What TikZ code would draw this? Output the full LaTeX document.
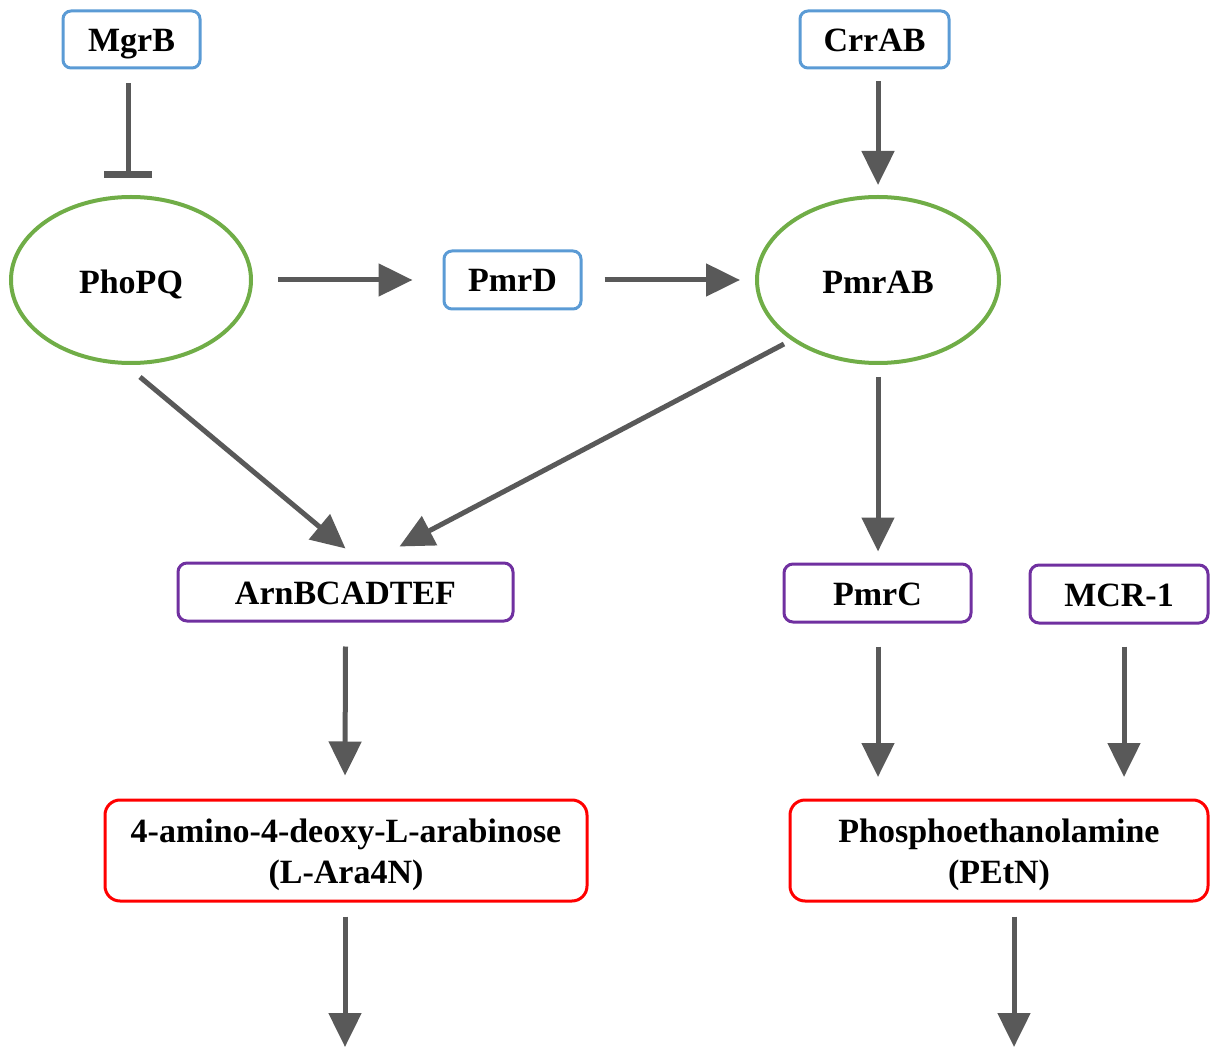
\documentclass[tikz,border=0pt]{standalone}
\usepackage{fontspec}
\setmainfont{Liberation Serif}
\usetikzlibrary{arrows.meta}
\definecolor{bluebox}{HTML}{5B9BD5}
\definecolor{greenov}{HTML}{70AD47}
\definecolor{purplebox}{HTML}{7030A0}
\definecolor{redbox}{HTML}{FF0000}
\definecolor{arrowgray}{HTML}{595959}
\begin{document}
\begin{tikzpicture}[x=1pt,y=-1pt,
  lbl/.style={font=\fontsize{34}{41}\selectfont\bfseries, align=center, inner sep=0pt},
  one/.style={lbl, text height=29pt, text depth=5pt},
  bluenode/.style={one, draw=bluebox, line width=3pt, rounded corners=8pt},
  purplenode/.style={one, draw=purplebox, line width=3pt, rounded corners=9pt},
  rednode/.style={lbl, draw=redbox, line width=3pt, rounded corners=15pt},
  arr/.style={draw=arrowgray, line width=5pt, -{Triangle[length=34pt,width=32pt]}},
  inh/.style={draw=arrowgray, line width=5pt, -{Bar[width=48pt,line width=7pt]}}
]
\useasboundingbox (0,0) rectangle (1210,1048);
\node[bluenode, minimum width=137pt, minimum height=57pt] (mgrb) at (131.5,39.5) {MgrB};
\node[bluenode, minimum width=149pt, minimum height=57pt] (crrab) at (874.5,39.5) {CrrAB};
\node[bluenode, minimum width=137pt, minimum height=58pt] (pmrd) at (512.5,280) {PmrD};
\draw[greenov, line width=4pt] (131,280) ellipse [x radius=120, y radius=83];
\node[one] (phopq) at (131,282) {PhoPQ};
\draw[greenov, line width=4pt] (878,280) ellipse [x radius=121, y radius=83];
\node[one] (pmrab) at (878,282) {PmrAB};
\node[purplenode, minimum width=335pt, minimum height=58pt] (arn) at (345.5,592) {ArnBCADTEF};
\node[purplenode, minimum width=187pt, minimum height=58pt] (pmrc) at (877.5,593) {PmrC};
\node[purplenode, minimum width=178pt, minimum height=58pt] (mcr) at (1119,594) {MCR-1};
\node[rednode, minimum width=482pt, minimum height=101pt] (ara) at (346,850.5) {\rule{0pt}{32pt}4-amino-4-deoxy-L-arabinose\\(L-Ara4N)};
\node[rednode, minimum width=418pt, minimum height=101pt] (petn) at (999,850.5) {\rule{0pt}{32pt}Phosphoethanolamine\\(PEtN)};
\coordinate (end1) at (345,1047);
\coordinate (end2) at (1014,1047);
\coordinate (phopqbar) at (128,178);
% connectors
\draw[inh] ([xshift=-3.5pt,yshift=-14pt]mgrb.south) -- (phopqbar);
\draw[arr] ([xshift=3.5pt,yshift=-12pt]crrab.south) -- ([yshift=11pt]878,196);
\draw[arr] (278,280) -- ([xshift=-30pt]pmrd.west);
\draw[arr] ([xshift=22pt]pmrd.east) -- (740,280);
\draw[arr] (140,377) -- ([yshift=13pt]arn.north);
\draw[arr] (784,344) -- ([xshift=54pt,yshift=15pt]arn.north);
\draw[arr] (878,377) -- ([xshift=0.5pt,yshift=11pt]pmrc.north);
\draw[arr] ([yshift=-24pt]arn.south) -- ([xshift=-1pt,yshift=23pt]ara.north);
\draw[arr] ([xshift=0.5pt,yshift=-23pt]pmrc.south) -- (878,777);
\draw[arr] ([xshift=5pt,yshift=-22pt]mcr.south) -- (1124,777);
\draw[arr] ([xshift=-1pt,yshift=-14pt]ara.south) -- (end1);
\draw[arr] ([xshift=15pt,yshift=-14pt]petn.south) -- (end2);
\end{tikzpicture}
\end{document}
